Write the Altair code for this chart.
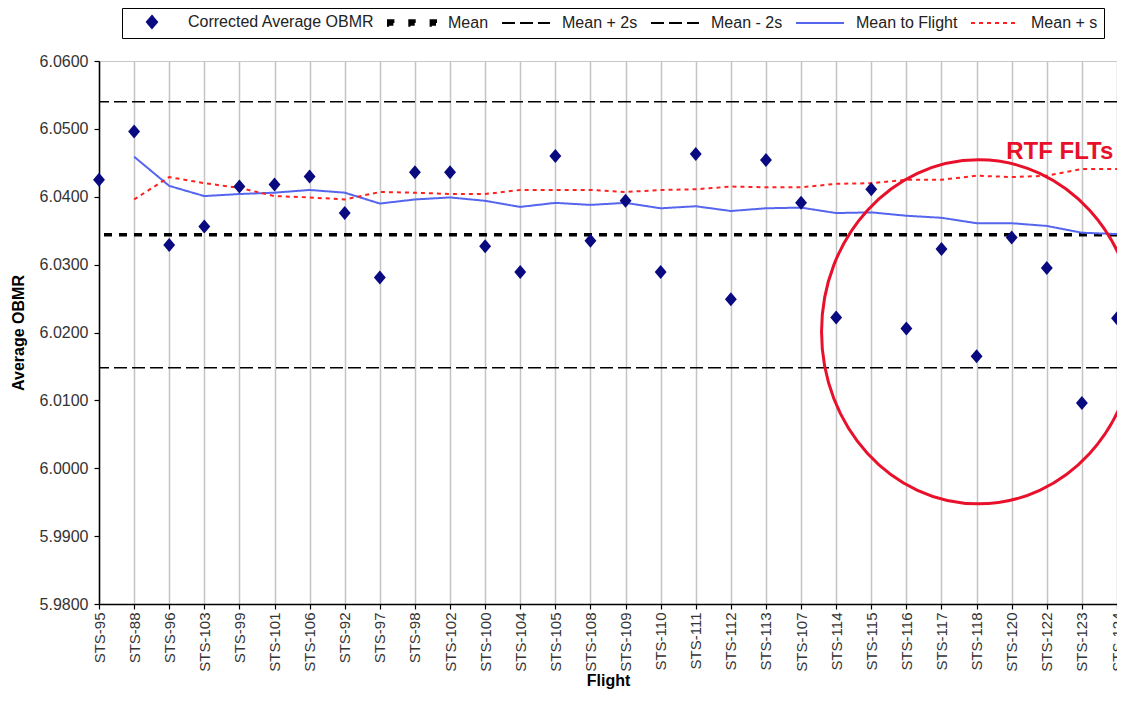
import altair as alt
import pandas as pd

# ---------------- data ----------------
flights = ["STS-95", "STS-88", "STS-96", "STS-103", "STS-99", "STS-101", "STS-106",
           "STS-92", "STS-97", "STS-98", "STS-102", "STS-100", "STS-104", "STS-105",
           "STS-108", "STS-109", "STS-110", "STS-111", "STS-112", "STS-113", "STS-107",
           "STS-114", "STS-115", "STS-116", "STS-117", "STS-118", "STS-120", "STS-122",
           "STS-123", "STS-124"]

corrected_obmr = [6.0425, 6.0496, 6.0329, 6.0356, 6.0415, 6.0418, 6.0430, 6.0376,
                  6.0281, 6.0436, 6.0436, 6.0327, 6.0289, 6.0460, 6.0335, 6.0394,
                  6.0289, 6.0463, 6.0249, 6.0454, 6.0391, 6.0222, 6.0411, 6.0206,
                  6.0323, 6.0165, 6.0340, 6.0295, 6.0096, 6.0221]

# running series start at the second flight (STS-88)
running_flights = flights[1:]
mean_to_flight = [6.0459, 6.0416, 6.0401, 6.0404, 6.0406, 6.0410, 6.0406, 6.0390,
                  6.0396, 6.0399, 6.0394, 6.0385, 6.0391, 6.0388, 6.0391, 6.0383,
                  6.0386, 6.0379, 6.0383, 6.0384, 6.0376, 6.0377, 6.0372, 6.0369,
                  6.0361, 6.0361, 6.0357, 6.0347, 6.0345]
mean_plus_s = [6.0396, 6.0429, 6.0420, 6.0413, 6.0401, 6.0399, 6.0396, 6.0407,
               6.0406, 6.0404, 6.0404, 6.0410, 6.0410, 6.0410, 6.0407, 6.0410,
               6.0411, 6.0415, 6.0414, 6.0414, 6.0419, 6.0420, 6.0425, 6.0425,
               6.0431, 6.0429, 6.0431, 6.0441, 6.0441]

ref_names = ["Mean", "Mean + 2s", "Mean - 2s"]
ref_values = [6.0344, 6.0540, 6.0148]

y_ticks = [5.98, 5.99, 6.00, 6.01, 6.02, 6.03, 6.04, 6.05, 6.06]

series_names = ["Corrected Average OBMR", "Mean", "Mean + 2s", "Mean - 2s",
                "Mean to Flight", "Mean + s"]
series_colors = ["#0a0a80", "#000000", "#000000", "#000000", "#5565ee", "#ff2020"]
series_dashes = [[1, 0], [8, 7], [13, 5], [13, 5], [1, 0], [4, 4]]
diamond = "M0,-1L0.85,0L0,1L-0.85,0Z"
stroke_sym = "M-4,0L4,0"
squares_sym = ("M-4,-0.45h0.9v0.9h-0.9z M-0.45,-0.45h0.9v0.9h-0.9z "
               "M3.1,-0.45h0.9v0.9h-0.9z")
series_shapes = [diamond, squares_sym, stroke_sym, stroke_sym, stroke_sym, stroke_sym]

annot_flight = ["STS-118"]
annot_value = [6.0201]
label_flight = ["STS-122"]
label_value = [6.0466]
label_text = ["RTF FLTs"]

# ---------------- tables ----------------
pts = pd.DataFrame({"flight": flights, "value": corrected_obmr,
                    "series": "Corrected Average OBMR"})
refs = pd.DataFrame({"series": ref_names, "value": ref_values})
lines = pd.concat([
    pd.DataFrame({"flight": running_flights, "value": mean_to_flight, "series": "Mean to Flight"}),
    pd.DataFrame({"flight": running_flights, "value": mean_plus_s, "series": "Mean + s"}),
])
annot = pd.DataFrame({"flight": annot_flight, "value": annot_value})
lbl = pd.DataFrame({"flight": label_flight, "value": label_value, "text": label_text})

FONT = "Liberation Sans"

X = alt.X("flight:N", sort=flights,
          scale=alt.Scale(type="point", domain=flights, padding=0),
          axis=alt.Axis(title="Flight", labelAngle=270, grid=True, gridColor="#c4c4c4",
                        gridWidth=1.5, domainColor="black", domainWidth=1.5,
                        tickColor="black", tickSize=5, tickWidth=1.2,
                        labelFontSize=15, labelFont=FONT, labelColor="#333333",
                        labelPadding=3, labelOverlap=False, labelBound=False,
                        titleFontSize=16, titleFont=FONT, titleFontWeight="bold",
                        titleColor="black", titlePadding=1))
Y = alt.Y("value:Q",
          scale=alt.Scale(domain=[5.98, 6.06], nice=False, zero=False),
          axis=alt.Axis(title="Average OBMR", values=y_ticks, format=".4f", grid=False,
                        domainColor="black", domainWidth=1.5, tickColor="black",
                        tickSize=5, tickWidth=1.2, labelFontSize=16, labelFont=FONT,
                        labelColor="#333333", labelPadding=6, titleFontSize=16,
                        titleFont=FONT, titleFontWeight="bold", titleColor="black",
                        titlePadding=13))

leg = alt.Legend(title=" ", titleOrient="left", titlePadding=16, titleFontSize=16,
                 orient="none", legendX=23, legendY=-53,
                 direction="horizontal", columns=6, symbolSize=144,
                 symbolStrokeWidth=2, labelFontSize=16, labelFont=FONT,
                 labelColor="#222222", labelOffset=28, labelLimit=400,
                 columnPadding=9, padding=6,
                 strokeColor="black", fillColor="white", symbolOpacity=1)

color_scale = alt.Scale(domain=series_names, range=series_colors)
dash_scale = alt.Scale(domain=series_names, range=series_dashes)
shape_scale = alt.Scale(domain=series_names, range=series_shapes)

mean_width = alt.condition(alt.datum.series == "Mean", alt.value(3.5), alt.value(1.5))

rules = alt.Chart(refs).mark_rule().encode(
    y=Y,
    color=alt.Color("series:N", scale=color_scale, legend=leg),
    strokeDash=alt.StrokeDash("series:N", scale=dash_scale, legend=leg),
    strokeWidth=mean_width,
)

running = alt.Chart(lines).mark_line(strokeWidth=2).encode(
    x=X, y=Y,
    color=alt.Color("series:N", scale=color_scale, legend=leg),
    strokeDash=alt.StrokeDash("series:N", scale=dash_scale, legend=leg),
)

points = alt.Chart(pts).mark_point(filled=True, size=196, opacity=1).encode(
    x=X, y=Y,
    fill=alt.Fill("series:N", scale=color_scale, legend=leg),
    shape=alt.Shape("series:N", scale=shape_scale, legend=leg),
)

ellipse_path = "M-0.913,0A0.913,1 0 1,1 0.913,0A0.913,1 0 1,1 -0.913,0Z"
ellipse = alt.Chart(annot).mark_point(shape=ellipse_path, size=118336, filled=False,
                                      stroke="#e8102a", strokeWidth=3, opacity=1,
                                      xOffset=2).encode(x=X, y=Y)

rtf = alt.Chart(lbl).mark_text(font=FONT, fontSize=24, fontWeight="bold",
                               color="#e8102a", dx=13, baseline="middle").encode(
    x=X, y=Y, text="text:N")

chart = alt.layer(rules, running, points, ellipse, rtf).properties(
    width=1018, height=543,
    autosize=alt.AutoSizeParams(type="none"),
    padding={"left": 91, "top": 53, "right": 0, "bottom": 86},
    background="white",
).configure_view(stroke="#c8c8c8")

chart.save("out.html", embed_options={"renderer": "svg", "actions": False})
